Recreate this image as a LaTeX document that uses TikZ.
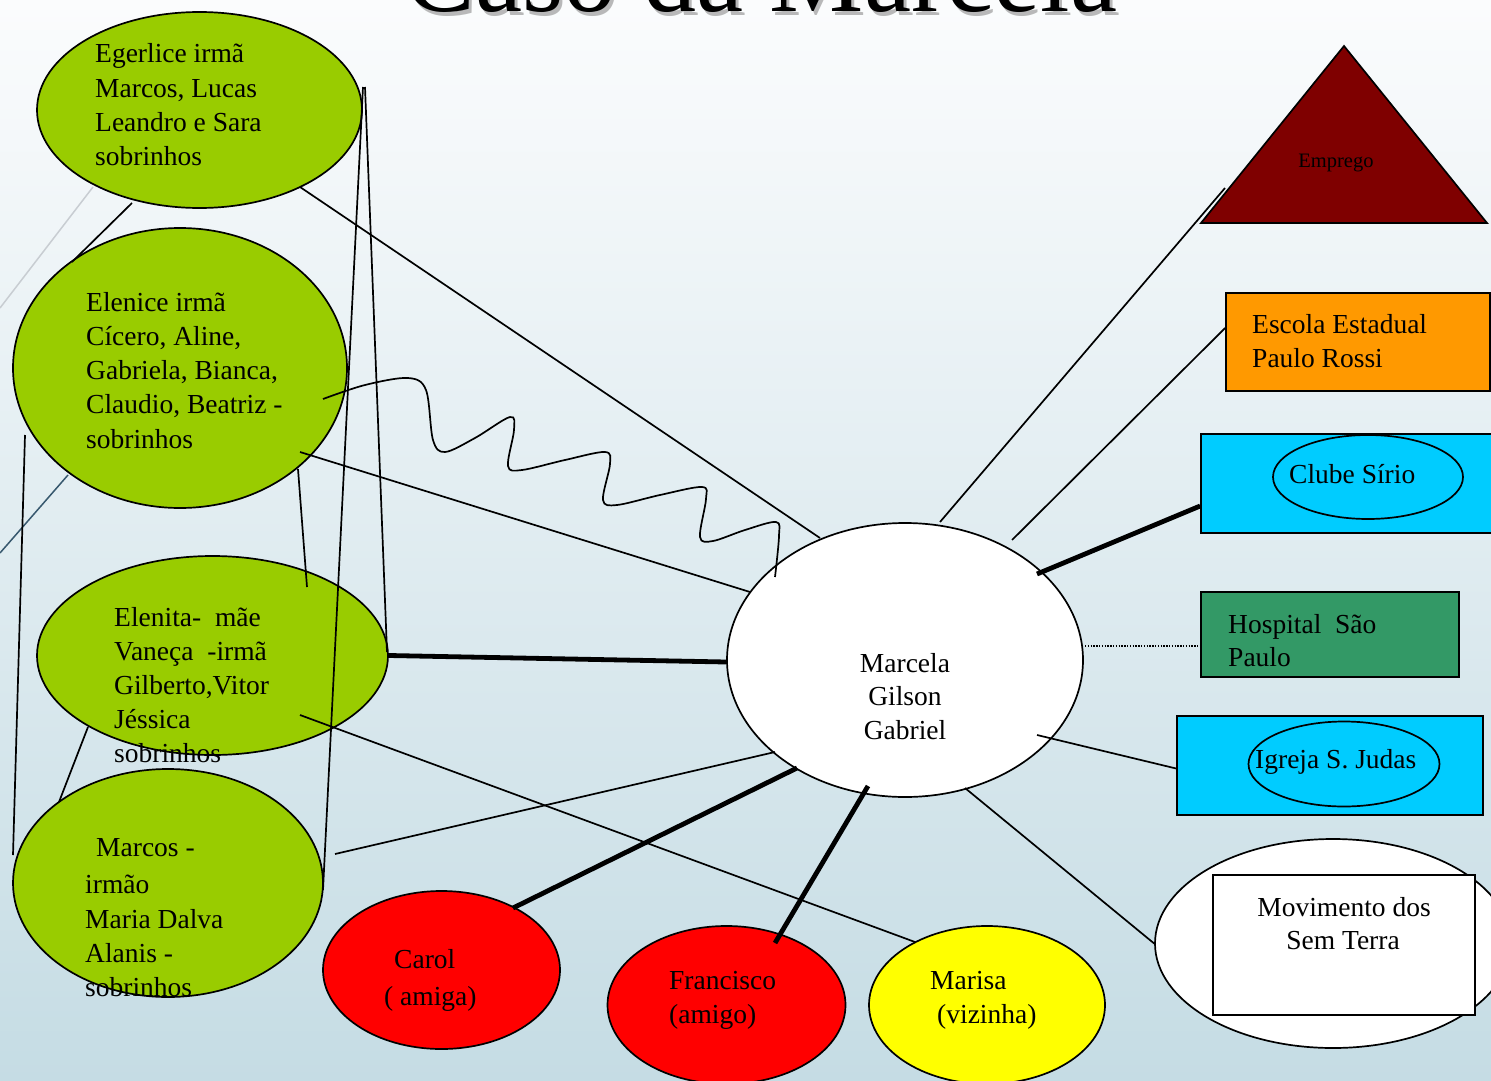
\documentclass[tikz,border=0pt]{standalone}
\usepackage{fontspec}
\setmainfont{Liberation Serif}
\usetikzlibrary{shapes.geometric}
\definecolor{leaf}{RGB}{153,204,0}
\definecolor{bgtop}{RGB}{251,252,253}
\definecolor{bgbot}{RGB}{197,220,228}
\definecolor{blood}{RGB}{127,0,0}
\definecolor{sky}{RGB}{0,204,255}
\definecolor{amber}{RGB}{255,153,0}
\definecolor{seagreen}{RGB}{51,153,102}
\definecolor{redc}{RGB}{255,0,0}
\definecolor{yel}{RGB}{255,255,0}
\definecolor{decogray}{RGB}{200,205,210}
\definecolor{decoslate}{RGB}{55,88,110}
\begin{document}
\begin{tikzpicture}[x=1pt,y=-1pt,
  lbl/.style={inner sep=0pt, font=\fontsize{27.5}{33}\selectfont, anchor=base west},
  lblc/.style={lbl, anchor=base},
  oval/.style={ellipse, draw=black, line width=1.7pt, inner sep=0pt},
  box/.style={rectangle, draw=black, line width=1.7pt, inner sep=0pt},
  link/.style={line width=1.7pt},
  strong/.style={line width=4.8pt},
]
\useasboundingbox (0,0) rectangle (1491,1081);
\clip (0,0) rectangle (1491,1081);
\shade[top color=bgtop, bottom color=bgbot] (0,0) rectangle (1491,1081);
% template decoration
\draw[decogray, line width=1.5pt] (93,187) -- (0,308);
\draw[decoslate, line width=1.5pt] (68,475) -- (0,553);
% title
\node[inner sep=0pt, anchor=base, font=\fontsize{106}{110}\selectfont, text=black!45, opacity=0.6] (titleshadow) at (764,16) {Caso da Marcela};
\node[inner sep=0pt, anchor=base, font=\fontsize{106}{110}\selectfont] (title) at (761,12) {Caso da Marcela};

% family ellipses
\node[oval, fill=leaf, minimum width=325, minimum height=196] (eg) at (199.5,110) {};
\node[oval, fill=leaf, minimum width=334, minimum height=280] (el) at (180,368) {};
\node[oval, fill=leaf, minimum width=351, minimum height=199] (en) at (212.5,655.5) {};
\node[oval, fill=leaf, minimum width=310, minimum height=228] (mc) at (168,883) {};
% centre
\node[oval, fill=white, minimum width=356, minimum height=274] (ctr) at (905,660) {};
% friends
\node[oval, fill=redc, minimum width=237, minimum height=158] (ca) at (441.5,970) {};
\node[oval, fill=redc, minimum width=238, minimum height=158] (fr) at (726.5,1005) {};
\node[oval, fill=yel, minimum width=236, minimum height=158] (ma) at (987,1005) {};
% movimento
\node[oval, fill=white, minimum width=356, minimum height=209] (mst) at (1333,943.5) {};
\node[box, fill=white, minimum width=262, minimum height=140] (mvr) at (1344,945) {};
% emprego triangle
\draw[fill=blood, line width=1.7pt] (1344,46) -- (1487,223) -- (1201,223) -- cycle;
\coordinate (empL) at (1225,188);
% institutions
\node[box, fill=amber, minimum width=264, minimum height=98] (es) at (1358,342) {};
\node[box, fill=sky, minimum width=299, minimum height=99] (cs) at (1350.5,483.5) {};
\node[oval, fill=sky, minimum width=190, minimum height=84] (csE) at (1368,477) {};
\node[box, fill=seagreen, minimum width=258, minimum height=85] (hs) at (1330,634.5) {};
\node[box, fill=sky, minimum width=306, minimum height=99] (ig) at (1330,765.5) {};
\node[oval, fill=sky, minimum width=191, minimum height=85] (igE) at (1344,764) {};

% connectors
\draw[link] ([shift={(100.5,77)}]eg.center) -- ([shift={(-85,-122)}]ctr.center);
\draw[link] ([shift={(120,84)}]el.center) -- ([shift={(-155,-68)}]ctr.center);
\draw[link] plot[smooth, tension=0.55] coordinates {([shift={(143,31)}]el.center) (365,385) (408,378) (426,390) (433,440) (445,452) (475,438) (510,417) (514,430) (508,466) (522,470) (565,460) (605,452) (610,464) (603,500) (617,505) (660,495) (702,487) (706,499) (700,537) (713,541) (745,530) (776,522) (779,536) ([shift={(-130,-83)}]ctr.center)};
\draw[strong] (en.east) -- ([shift={(0,2)}]ctr.west);
\draw[link] ([shift={(87.5,59.5)}]en.center) -- ([shift={(-72,-63)}]ma.center);
\draw[link] ([shift={(167,-29)}]mc.center) -- ([shift={(-130,92)}]ctr.center);
\draw[strong] ([shift={(-108,108)}]ctr.center) -- ([shift={(71.5,-62)}]ca.center);
\draw[strong] ([shift={(-37,126)}]ctr.center) -- ([shift={(48.5,-62)}]fr.center);
\draw[link] ([shift={(60,128)}]ctr.center) -- (mst.west);
\draw[link] ([shift={(132,75)}]ctr.center) -- ([shift={(0,3)}]ig.west);
\draw[line width=1.2pt, dash pattern=on 1.4pt off 1.4pt] ([shift={(180,-14)}]ctr.center) -- ([shift={(0,11.5)}]hs.west);
\draw[strong] ([shift={(132,-86)}]ctr.center) -- ([shift={(0,22.5)}]cs.west);
\draw[link] ([shift={(107,-120)}]ctr.center) -- ([shift={(0,-14)}]es.west);
\draw[link] ([shift={(35,-138)}]ctr.center) -- (empL);
% family links
\draw[link] ([shift={(-67.5,93)}]eg.center) -- ([shift={(-108,-106)}]el.center);
\draw[link] ([shift={(-155,67)}]el.center) -- ([shift={(-155,-28)}]mc.center);
\draw[link] ([shift={(-124.5,71.5)}]en.center) -- ([shift={(-109,-81)}]mc.center);
\draw[link] ([shift={(118,101)}]el.center) -- ([shift={(94.5,-68.5)}]en.center);
\draw[link] ([shift={(163.5,-23)}]eg.center) -- ([shift={(155,7)}]mc.center);
\draw[link] ([shift={(165.5,-23)}]eg.center) -- ([shift={(174.5,-3.5)}]en.center);

% texts
\foreach \t [count=\i from 0] in {Egerlice irmã, {Marcos, Lucas}, Leandro e Sara, sobrinhos}
  \node[lbl] (egt\i) at (95, 63+34.3*\i) {\t};
\foreach \t [count=\i from 0] in {Elenice irmã, {Cícero, Aline,}, {Gabriela, Bianca,}, {Claudio, Beatriz -}, sobrinhos}
  \node[lbl] (elt\i) at (86, 311+34.25*\i) {\t};
\foreach \t [count=\i from 0] in {Elenita-\ \ mãe, Vaneça\ \ -irmã, {Gilberto,Vitor}, Jéssica, sobrinhos}
  \node[lbl] (ent\i) at (114, 626+34*\i) {\t};
\node[lbl] (mct0) at (96,856) {Marcos -};
\node[lbl] (mct1) at (85,893) {irmão};
\node[lbl] (mct2) at (85,928) {Maria Dalva};
\node[lbl] (mct3) at (85,962) {Alanis -};
\node[lbl] (mct4) at (85,996) {sobrinhos};
\node[lblc] (ctr1) at (905,672) {Marcela};
\node[lblc] (ctr2) at (905,705.5) {Gilson};
\node[lblc] (ctr3) at (905,739) {Gabriel};
\node[lbl] (cat1) at (394,968) {Carol};
\node[lbl] (cat2) at (384,1005) {( amiga)};
\node[lbl] (frt1) at (669,989) {Francisco};
\node[lbl] (frt2) at (669,1023) {(amigo)};
\node[lbl] (mat1) at (930,989) {Marisa};
\node[lbl] (mat2) at (937,1023) {(vizinha)};
\node[lblc] (mvt1) at (1344,916) {Movimento dos};
\node[lblc] (mvt2) at (1343,949) {Sem Terra};
\node[inner sep=0pt, anchor=base, font=\fontsize{20.5}{24}\selectfont] (empt) at (1336,167) {Emprego};
\node[lbl] (est1) at (1252,333) {Escola Estadual};
\node[lbl] (est2) at (1252,367) {Paulo Rossi};
\node[lbl] (cst) at (1289,483) {Clube Sírio};
\node[lbl] (hst1) at (1228,633) {Hospital\ \ São};
\node[lbl] (hst2) at (1228,666) {Paulo};
\node[lbl] (igt) at (1255,768) {Igreja S. Judas};
\end{tikzpicture}
\end{document}
